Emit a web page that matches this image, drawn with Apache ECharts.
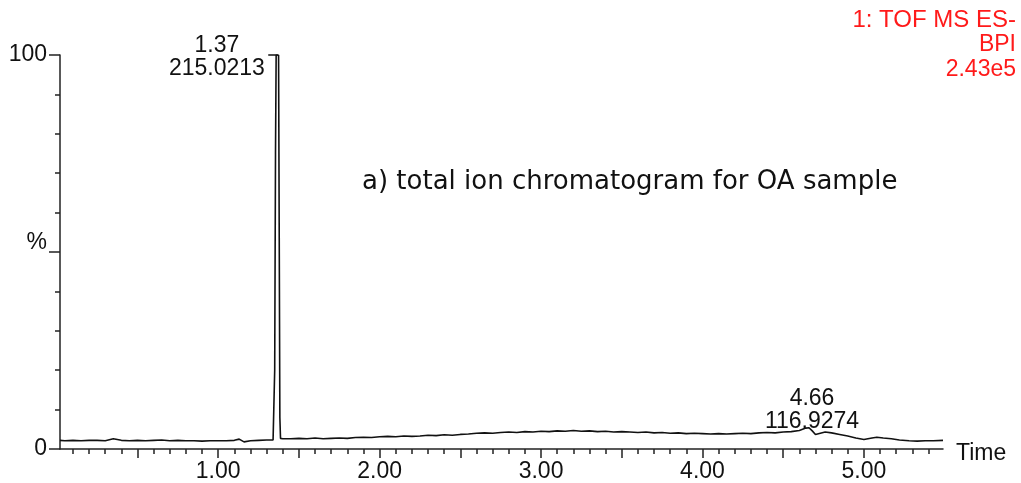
<!DOCTYPE html>
<html><head><meta charset="utf-8">
<script src="https://cdn.jsdelivr.net/npm/echarts@6/dist/echarts.min.js"></script>
<style>html,body{margin:0;padding:0;background:#fff}#c{width:1021px;height:483px}</style>
</head><body><div id="c"></div>
<script>
// retention time (min)
const times = [0.02,0.05,0.10,0.15,0.20,0.25,0.30,0.35,0.40,0.45,0.50,0.55,0.60,0.65,0.70,0.75,0.80,0.85,0.90,0.95,1.00,1.05,1.10,1.13,1.16,1.20,1.25,1.30,1.34,
  1.350,1.355,1.359,1.374,1.378,1.382,1.386,
  1.40,1.45,1.50,1.55,1.60,1.65,1.70,1.75,1.80,1.85,1.90,1.95,2.00,2.05,2.10,2.15,2.20,2.25,2.30,2.35,2.40,2.45,2.50,2.55,2.60,2.65,2.70,2.75,2.80,2.85,2.90,2.95,
  3.00,3.05,3.10,3.15,3.20,3.25,3.30,3.35,3.40,3.45,3.50,3.55,3.60,3.65,3.70,3.75,3.80,3.85,3.90,3.95,
  4.00,4.05,4.10,4.15,4.20,4.25,4.30,4.35,4.40,4.45,4.50,4.55,4.60,4.64,4.66,4.68,4.70,4.73,4.76,4.80,4.85,4.90,4.95,
  5.00,5.05,5.08,5.12,5.17,5.22,5.28,5.33,5.38,5.43,5.49];
// relative intensity (%)
const intensity = [2.2,2.1,2.2,2.1,2.2,2.2,2.1,2.6,2.2,2.1,2.2,2.1,2.2,2.3,2.1,2.2,2.1,2.1,2.0,2.1,2.1,2.1,2.2,2.5,1.8,2.1,2.2,2.3,2.3,
  20,75,100,100,55,8,2.7,
  2.6,2.6,2.7,2.6,2.8,2.6,2.7,2.8,2.7,2.9,3.0,2.9,3.1,3.2,3.1,3.3,3.2,3.3,3.5,3.4,3.6,3.5,3.7,3.8,4.0,4.1,4.0,4.2,4.3,4.2,4.4,4.3,
  4.5,4.4,4.6,4.5,4.7,4.5,4.6,4.4,4.5,4.3,4.4,4.3,4.2,4.3,4.1,4.2,4.0,4.1,3.9,4.0,
  3.9,3.8,3.9,3.8,3.9,4.0,3.9,4.1,4.2,4.1,4.3,4.4,4.7,5.3,5.4,4.6,3.7,4.0,4.3,4.1,3.7,3.3,2.8,
  2.4,2.8,3.0,2.8,2.6,2.3,2.1,2.0,2.1,2.1,2.2];

const xLabelValues = [1,2,3,4,5];
const xMajorTicks = [0.5,1.0,1.5,2.0,2.5,3.0,3.5,4.0,4.5,5.0];
const xMinorTicks = [0.1,0.2,0.3,0.4,0.6,0.7,0.8,0.9,1.1,1.2,1.3,1.4,1.6,1.7,1.8,1.9,2.1,2.2,2.3,2.4,2.6,2.7,2.8,2.9,3.1,3.2,3.3,3.4,3.6,3.7,3.8,3.9,4.1,4.2,4.3,4.4,4.6,4.7,4.8,4.9,5.1,5.2,5.3,5.4];
const yLabelValues = [0,50,100];
const yMinorTicks = [10,20,30,40,60,70,80,90];

const peakTimes = [1.37, 4.66];
const peakHeights = [100, 5.4];
const peakMz = ['215.0213', '116.9274'];

const titleText = 'a) total ion chromatogram for OA sample';
const infoText = ['1: TOF MS ES-', 'BPI', '2.43e5'];
const xName = 'Time';

const chart = echarts.init(document.getElementById('c'));
const axisColor = '#222';
const numFont = 'Liberation Sans';
const fs = 23;
const grid = {left: 60, right: 78, top: 55, bottom: 33};

chart.setOption({
  animation: false,
  backgroundColor: '#fff',
  grid: grid,
  xAxis: [
    {
      type: 'value', min: 0.02, max: 5.49, position: 'bottom',
      name: '{t|' + xName + '}', nameLocation: 'end', nameGap: 13,
      nameTextStyle: {color: '#111', fontSize: fs, fontFamily: numFont, verticalAlign: 'middle',
        rich: {t: {color: '#111', fontSize: fs, fontFamily: numFont, padding: [10,0,0,0]}}},
      axisLine: {show: true, lineStyle: {color: axisColor, width: 1.5}},
      axisTick: {show: true, customValues: xMajorTicks, length: 9, inside: false, lineStyle: {color: axisColor, width: 1.5}},
      axisLabel: {show: true, customValues: xLabelValues, margin: 11, color: '#111', fontSize: fs, fontFamily: numFont,
        formatter: v => v.toFixed(2)},
      splitLine: {show: false}
    },
    {
      type: 'value', min: 0.02, max: 5.49, position: 'bottom', gridIndex: 0,
      axisLine: {show: false},
      axisTick: {show: true, customValues: xMinorTicks, length: 5, lineStyle: {color: axisColor, width: 1.5}},
      axisLabel: {show: false}, splitLine: {show: false}
    }
  ],
  yAxis: [
    {
      type: 'value', min: 0, max: 100, position: 'left',
      axisLine: {show: true, lineStyle: {color: axisColor, width: 1.5}},
      axisTick: {show: true, customValues: yLabelValues, length: 11, lineStyle: {color: axisColor, width: 1.5}},
      axisLabel: {show: true, customValues: yLabelValues, margin: 13, color: '#111', fontSize: fs, fontFamily: numFont,
        formatter: v => v === 50 ? '{p|%}' : String(v),
        rich: {p: {fontSize: fs, fontFamily: numFont, color: '#111', padding: [0,0,18,0]}}},
      splitLine: {show: false}
    },
    {
      type: 'value', min: 0, max: 100, position: 'left',
      axisLine: {show: false},
      axisTick: {show: true, customValues: yMinorTicks, length: 5, lineStyle: {color: axisColor, width: 1.5}},
      axisLabel: {show: false}, splitLine: {show: false}
    }
  ],
  series: [{
    type: 'line',
    xAxisIndex: 0, yAxisIndex: 0,
    data: times.map((t, i) => [t, intensity[i]]),
    showSymbol: false, symbol: 'none',
    lineStyle: {color: '#111', width: 1.6},
    markLine: {
      silent: true, symbol: 'none',
      lineStyle: {color: '#111', width: 1.5, type: 'solid'},
      label: {show: false},
      data: [[{coord: [1.31, 100]}, {coord: [1.37, 100]}]]
    },
    markPoint: {
      symbol: 'circle', symbolSize: 0, silent: true,
      data: [
        {coord: [peakTimes[0], peakHeights[0]],
          label: {show: true, formatter: peakTimes[0].toFixed(2) + '\n' + peakMz[0], offset: [-61, 2]}},
        {coord: [peakTimes[1], peakHeights[1]],
          label: {show: true, formatter: peakTimes[1].toFixed(2) + '\n' + peakMz[1], offset: [3, -18]}}
      ],
      label: {color: '#111', fontSize: fs, fontFamily: numFont, lineHeight: 23, align: 'center', verticalAlign: 'middle', position: 'inside'}
    }
  }],
  graphic: [
    {type: 'text', left: 362, top: 169, style: {text: titleText, fill: '#111', font: '26px "DejaVu Sans"'}},
    {type: 'text', right: 5, top: 8, style: {text: infoText[0], fill: '#ff1a1a', font: '24px "Liberation Sans"'}},
    {type: 'text', right: 5, top: 33, style: {text: infoText[1], fill: '#ff1a1a', font: '23px "Liberation Sans"'}},
    {type: 'text', right: 5, top: 58, style: {text: infoText[2], fill: '#ff1a1a', font: '23px "Liberation Sans"'}}
  ]
});
</script>
</body></html>
